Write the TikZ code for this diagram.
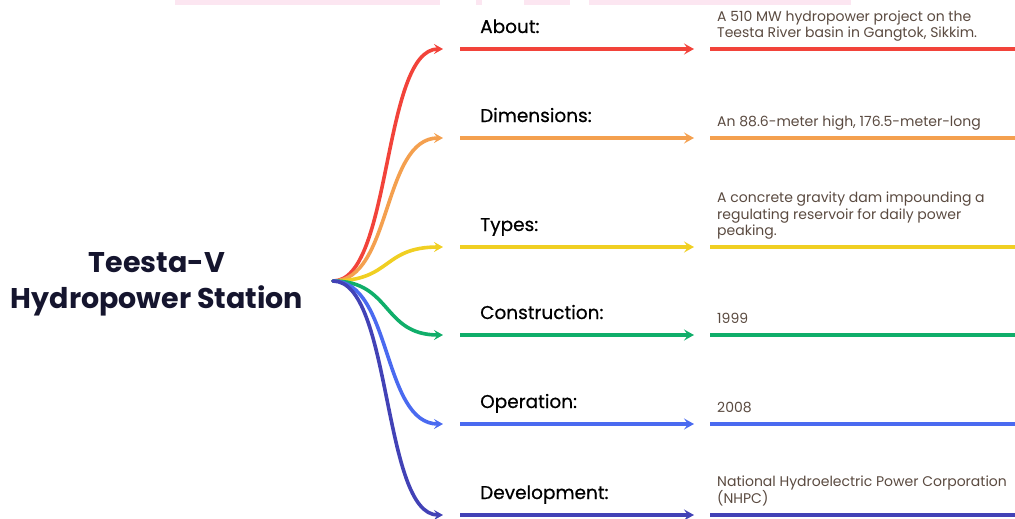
\documentclass[tikz,border=0pt]{standalone}
\usepackage{fontspec}
\setmainfont{Poppins}
\newfontfamily\labfont{Poppins}[FakeBold=0.6]
\usetikzlibrary{arrows.meta}
\definecolor{cRed}{HTML}{F2433A}
\definecolor{cOrange}{HTML}{F4A04F}
\definecolor{cYellow}{HTML}{F0CF22}
\definecolor{cGreen}{HTML}{10AE6A}
\definecolor{cBlue}{HTML}{4A6AF0}
\definecolor{cIndigo}{HTML}{4242B6}
\definecolor{rootcol}{HTML}{15152E}
\definecolor{desccol}{HTML}{5A4A40}
\definecolor{pinkband}{HTML}{FCE6F1}
\begin{document}
\begin{tikzpicture}[x=1pt,y=-1pt,
  curve/.style={line width=3.6pt,line cap=round,-{Stealth[length=9pt,width=10pt,inset=3.5pt]}},
  hline/.style={line width=4.5pt},
  harrow/.style={line width=4.5pt,-{Stealth[length=10pt,width=11pt,inset=4pt]}},
  lab/.style={anchor=base west,inner sep=0pt,font=\labfont\fontsize{18.5}{22}\selectfont,text=black},
  desc/.style={anchor=south west,inner sep=0pt,align=left,text depth=3pt,font=\fontsize{14}{16.5}\selectfont,text=desccol}]
\useasboundingbox (0,0) rectangle (1015,519);
\fill[pinkband] (175,0) rectangle (440,5);
\fill[pinkband] (476,0) rectangle (482,5);
\fill[pinkband] (524,0) rectangle (570,5);
\fill[pinkband] (589,0) rectangle (851,5);
\node[font=\bfseries\fontsize{28.5}{36}\selectfont,align=center,text=rootcol] (root) at (157,284) {Teesta-V\\Hydropower Station};
\coordinate (hub) at (333,281);
\foreach \y/\c/\l/\d [count=\i] in {
  49/cRed/About:/{A 510 MW hydropower project on the\\Teesta River basin in Gangtok, Sikkim.},
  138/cOrange/Dimensions:/{An 88.6-meter high, 176.5-meter-long},
  247/cYellow/Types:/{A concrete gravity dam impounding a\\regulating reservoir for daily power\\peaking.},
  335/cGreen/Construction:/{1999},
  424/cBlue/Operation:/{2008},
  515/cIndigo/Development:/{National Hydroelectric Power Corporation\\(NHPC)}} {
  \coordinate (a\i) at (443,\y);
  \coordinate (b\i) at (460,\y);
  \coordinate (c\i) at (694,\y);
  \coordinate (d\i) at (710,\y);
  \coordinate (e\i) at (1015,\y);
  \draw[curve,\c] (hub) .. controls (392,281) and (382,\y) .. (a\i);
  \draw[harrow,\c] (b\i) -- (c\i);
  \draw[hline,\c] (d\i) -- (e\i);
  \node[lab] (l\i) at (480,\y-16) {\l};
  \node[desc] (t\i) at (717,\y-8) {\d};
}
\end{tikzpicture}
\end{document}
